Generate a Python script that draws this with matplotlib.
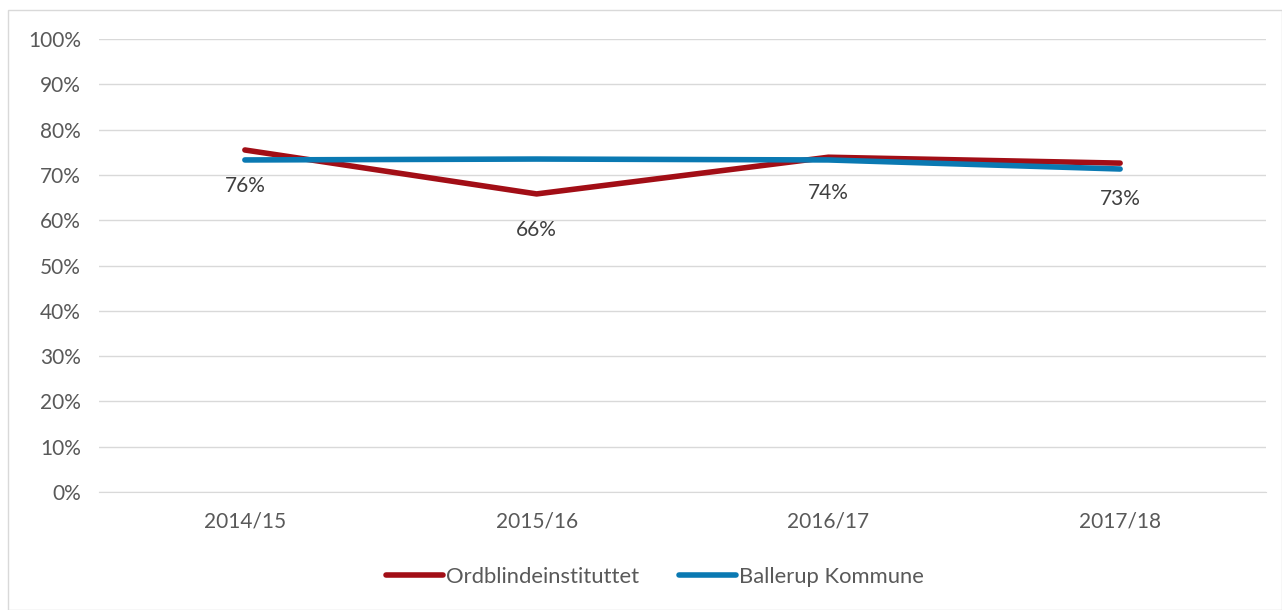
import matplotlib.pyplot as plt
from matplotlib.patches import Rectangle

years = ["2014/15", "2015/16", "2016/17", "2017/18"]
ordblinde = [75.5, 65.8, 73.9, 72.6]
ballerup = [73.3, 73.5, 73.3, 71.3]
labels = ["76%", "66%", "74%", "73%"]

plt.rcParams['font.family'] = ['Lato', 'DejaVu Sans']
text_col = "#595959"
red = "#A20E16"
blue = "#0A79B2"
fs = 15

fig = plt.figure(figsize=(12.82, 6.10), dpi=100)
fig.patches.append(Rectangle((8 / 1282, 0), 1 - 8 / 1282, 1 - 10 / 610,
                             transform=fig.transFigure, fill=False,
                             edgecolor="#D9D9D9", linewidth=1))
ax = fig.add_axes([99 / 1282, 1 - 492 / 610, 1167 / 1282, 453 / 610])

x = list(range(len(years)))
ax.plot(x, ordblinde, color=red, linewidth=4, solid_capstyle="round",
        label="Ordblindeinstituttet", zorder=3)
ax.plot(x, ballerup, color=blue, linewidth=4, solid_capstyle="round",
        label="Ballerup Kommune", zorder=3)
for xi, yi, lab in zip(x, ordblinde, labels):
    ax.annotate(lab, (xi, yi), xytext=(0, -26), textcoords="offset points",
                ha="center", va="center", fontsize=fs, color="#404040")

ax.set_xlim(-0.5, 3.5)
ax.set_ylim(0, 100)
ax.set_yticks(range(0, 101, 10))
ax.set_yticklabels([f"{v}%" for v in range(0, 101, 10)])
ax.set_xticks(x)
ax.set_xticklabels(years)
ax.grid(axis="y", color="#D9D9D9", linewidth=1)
ax.set_axisbelow(True)
for s in ["top", "right", "left"]:
    ax.spines[s].set_visible(False)
ax.spines["bottom"].set_color("#D9D9D9")
ax.tick_params(length=0, labelsize=fs, labelcolor=text_col, pad=13)
ax.tick_params(axis="x", pad=14)

fig.legend(loc="center", bbox_to_anchor=(655 / 1282, 1 - 577 / 610), ncol=2,
           frameon=False, fontsize=15.8, labelcolor=text_col, handlelength=2.6,
           handletextpad=0.15, columnspacing=1.8)

fig.savefig("out.png", dpi=100)
